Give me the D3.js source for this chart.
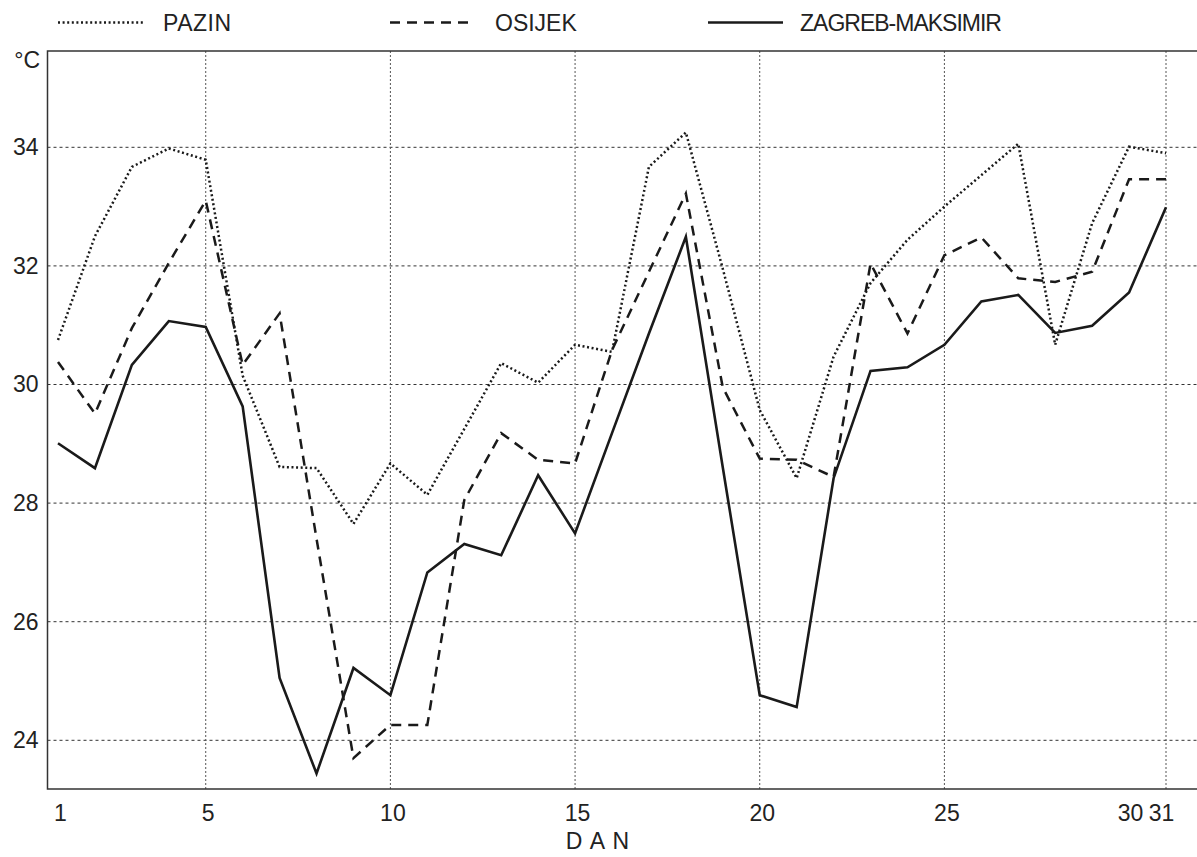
<!DOCTYPE html>
<html><head><meta charset="utf-8">
<script src="https://cdn.jsdelivr.net/npm/d3@7"></script>
<style>
html,body{margin:0;padding:0;background:#fff;}
svg{display:block;font-family:"Liberation Sans",Arial,Helvetica,sans-serif;}
</style></head>
<body>
<svg id="chart" width="1197" height="857"></svg>
<script>
const days = d3.range(1, 32);
const pazin = [30.75,32.5,33.67,33.98,33.79,30.15,28.61,28.59,27.65,28.67,28.14,29.25,30.36,30.03,30.67,30.55,33.67,34.25,31.95,29.57,28.42,30.47,31.71,32.44,33.0,33.53,34.06,30.67,32.72,34.01,33.9];
const osijek = [30.38,29.51,30.95,32.05,33.1,30.33,31.2,27.4,23.7,24.26,24.26,28.05,29.18,28.73,28.67,30.58,31.9,33.22,29.95,28.75,28.73,28.44,32.04,30.86,32.18,32.48,31.79,31.73,31.9,33.46,33.46];
const zagreb = [29.01,28.59,30.33,31.07,30.97,29.63,25.05,23.44,25.22,24.76,26.83,27.31,27.12,28.47,27.49,29.18,30.86,32.49,28.6,24.76,24.56,28.42,30.23,30.29,30.67,31.4,31.51,30.87,30.99,31.55,32.99];
const seriesNames = ["PAZIN","OSIJEK","ZAGREB-MAKSIMIR"];
const xTicks = [1,5,10,15,20,25,30,31];
const xGrid = [5,10,15,20,25,31];
const yTicks = [24,26,28,30,32,34];
const yUnit = "°C";
const xTitle = "D A N";

(function(){
const svg = d3.select("#chart");
const pL = 47.5, pT = 51, pB = 789, pR = 1197;
const x = d3.scaleLinear().domain([1,31]).range([58,1166]);
const y = d3.scaleLinear().domain([24,34]).range([740.3,147.3]);

const g = svg.append("g");
g.selectAll("line.hg").data(yTicks).join("line")
  .attr("x1", pL).attr("x2", pR)
  .attr("y1", d=>y(d)).attr("y2", d=>y(d))
  .attr("stroke","#333").attr("stroke-width",1).attr("stroke-dasharray","3,3");
g.selectAll("line.vg").data(xGrid).join("line")
  .attr("x1", d=>x(d)).attr("x2", d=>x(d))
  .attr("y1", pT).attr("y2", pB)
  .attr("stroke","#555").attr("stroke-width",1).attr("stroke-dasharray","2,2");

svg.append("path").attr("d",`M${pR},${pT}H${pL}V${pB}H${pR}`)
  .attr("fill","none").attr("stroke","#333").attr("stroke-width",1.5);

const yAxis = svg.append("g").attr("transform",`translate(${pL},0)`)
  .call(d3.axisLeft(y).tickValues(yTicks).tickSize(0).tickPadding(9).tickFormat(d3.format("d")));
yAxis.select(".domain").remove();
yAxis.selectAll("text").attr("font-size",23).attr("fill","#222").attr("font-family","Liberation Sans, Arial, sans-serif");

const xAxis = svg.append("g").attr("transform",`translate(0,${pB})`)
  .call(d3.axisBottom(x).tickValues(xTicks).tickSize(0).tickPadding(16).tickFormat(d3.format("d")));
xAxis.select(".domain").remove();
xAxis.selectAll("text").attr("font-size",23).attr("fill","#222").attr("font-family","Liberation Sans, Arial, sans-serif")
  .attr("dx", d => d===31 ? -5 : (d===30 ? 1 : 2));

svg.append("text").attr("x",40).attr("y",68).attr("text-anchor","end")
  .attr("font-size",23).attr("fill","#222").text(yUnit);
svg.append("text").attr("x",598).attr("y",849).attr("text-anchor","middle")
  .attr("font-size",23).attr("fill","#222").attr("letter-spacing","0.05em").text(xTitle);

const styles = [
  {data: pazin, dash: "2,2.6", w: 2.5},
  {data: osijek, dash: "10,7", w: 2.5},
  {data: zagreb, dash: null, w: 2.6}
];
const line = d3.line().x((d,i)=>x(days[i])).y(d=>y(d));
styles.forEach(s => {
  svg.append("path").datum(s.data).attr("d", line)
    .attr("fill","none").attr("stroke","#1a1a1a").attr("stroke-width", s.w)
    .attr("stroke-linejoin","miter")
    .attr("stroke-dasharray", s.dash);
});

const legX = [[58,143,163],[390,475,495],[708,783,800]];
const legSpacing = [0.5, 0, -1];
seriesNames.forEach((n,i) => {
  svg.append("line").attr("x1",legX[i][0]).attr("x2",legX[i][1]).attr("y1",22.5).attr("y2",22.5)
    .attr("stroke","#1a1a1a").attr("stroke-width", styles[i].w).attr("stroke-dasharray", styles[i].dash);
  svg.append("text").attr("x",legX[i][2]).attr("y",31).attr("font-size",23).attr("fill","#222")
    .attr("letter-spacing", legSpacing[i]).text(n);
});
})();
</script>
</body></html>
